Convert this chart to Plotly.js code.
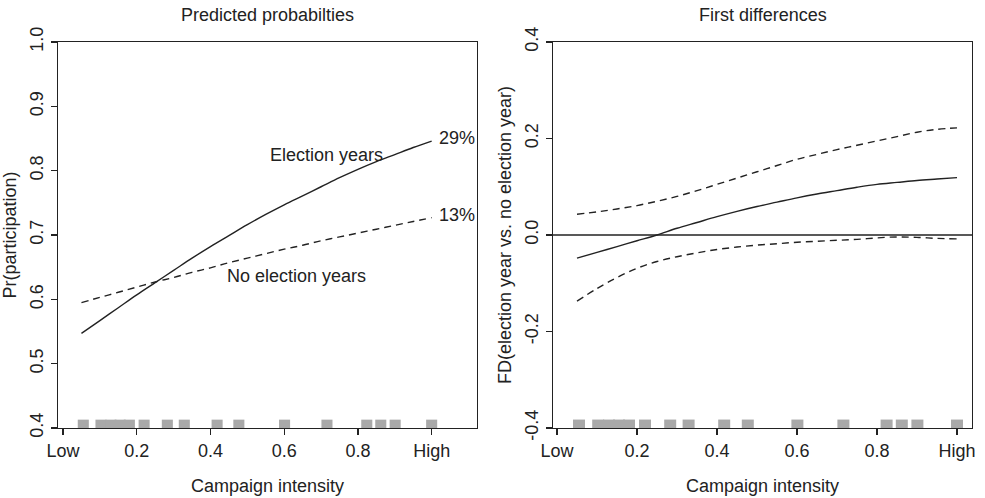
<!DOCTYPE html>
<html>
<head>
<meta charset="utf-8">
<script src="https://cdn.plot.ly/plotly-3.0.1.min.js"></script>
<style>html,body{margin:0;padding:0;background:#fff;}#chart{width:985px;height:498px;}</style>
</head>
<body>
<div id="chart"></div>
<script>
// ---- data ----
const intensity = [0.05,0.10,0.15,0.20,0.25,0.30,0.35,0.40,0.45,0.50,0.55,0.60,0.65,0.70,0.75,0.80,0.85,0.90,0.95,1.00];
const prElection = [0.547,0.567,0.587,0.607,0.626,0.645,0.664,0.682,0.699,0.716,0.732,0.747,0.761,0.775,0.789,0.802,0.814,0.825,0.836,0.846];
const prNoElection = [0.595,0.603,0.611,0.619,0.627,0.634,0.642,0.649,0.657,0.664,0.671,0.678,0.684,0.691,0.697,0.703,0.709,0.715,0.721,0.727];
const fdMean = [-0.048,-0.036,-0.024,-0.012,0.000,0.014,0.026,0.038,0.049,0.059,0.068,0.077,0.085,0.092,0.099,0.105,0.109,0.113,0.116,0.119];
const fdUpper = [0.043,0.048,0.054,0.061,0.070,0.080,0.092,0.105,0.118,0.131,0.144,0.157,0.167,0.177,0.186,0.195,0.204,0.213,0.219,0.222];
const fdLower = [-0.137,-0.111,-0.088,-0.069,-0.055,-0.045,-0.037,-0.030,-0.025,-0.021,-0.018,-0.015,-0.013,-0.011,-0.009,-0.006,-0.004,-0.005,-0.007,-0.008];
const rugValues = [0.055,0.103,0.13,0.155,0.18,0.22,0.283,0.329,0.418,0.477,0.601,0.716,0.824,0.862,0.901,1.0];
const xTickVals = [0,0.2,0.4,0.6,0.8,1];
const xTickText = ['Low','0.2','0.4','0.6','0.8','High'];
const yTickVals1 = [0.4,0.5,0.6,0.7,0.8,0.9,1.0];
const yTickText1 = ['0.4','0.5','0.6','0.7','0.8','0.9','1.0'];
const yTickVals2 = [-0.4,-0.2,0,0.2,0.4];
const yTickText2 = ['-0.4','-0.2','0.0','0.2','0.4'];

// ---- styles ----
const INK = '#222';
const FONT = 'Liberation Sans, Arial, Helvetica, sans-serif';
const FS = 18;
const LW = 1.4;
const DASH = '7px,5px';
const RUG = '#a9a9a9';

const traces = [
  {x: rugValues, y: rugValues.map(() => 0.013), base: 0.4, width: rugValues.map(() => 0.03), type: 'bar', marker: {color: RUG, line: {width: 0}}, xaxis: 'x', yaxis: 'y', hoverinfo: 'skip'},
  {x: intensity, y: prElection, mode: 'lines', line: {color: INK, width: LW, shape: 'spline'}, xaxis: 'x', yaxis: 'y'},
  {x: intensity, y: prNoElection, mode: 'lines', line: {color: INK, width: LW, dash: DASH, shape: 'spline'}, xaxis: 'x', yaxis: 'y'},
  {x: rugValues, y: rugValues.map(() => 0.0175), base: -0.4, width: rugValues.map(() => 0.03), type: 'bar', marker: {color: RUG, line: {width: 0}}, xaxis: 'x2', yaxis: 'y2', hoverinfo: 'skip'},
  {x: intensity, y: fdMean, mode: 'lines', line: {color: INK, width: LW, shape: 'spline'}, xaxis: 'x2', yaxis: 'y2'},
  {x: intensity, y: fdUpper, mode: 'lines', line: {color: INK, width: LW, dash: DASH, shape: 'spline'}, xaxis: 'x2', yaxis: 'y2'},
  {x: intensity, y: fdLower, mode: 'lines', line: {color: INK, width: LW, dash: DASH, shape: 'spline'}, xaxis: 'x2', yaxis: 'y2'}
];

function xAxis(domain, range, anchor) {
  return {domain, range, anchor, tickvals: xTickVals, ticktext: xTickText, ticks: 'outside', ticklen: 6, tickwidth: 1.2, tickcolor: INK,
    showline: true, mirror: true, linecolor: INK, linewidth: 1.4, showgrid: false, zeroline: false,
    tickfont: {family: FONT, size: FS, color: INK},
    title: {text: 'Campaign intensity', font: {family: FONT, size: FS, color: INK}, standoff: 19}};
}
function yAxis(domain, range, anchor, vals, text, title) {
  return {domain, range, anchor, tickvals: vals, ticktext: text, tickangle: -90, ticks: 'outside', ticklen: 6, tickwidth: 1.2, tickcolor: INK,
    showline: true, mirror: true, linecolor: INK, linewidth: 1.4, showgrid: false, zeroline: false,
    tickfont: {family: FONT, size: FS, color: INK},
    title: {text: title, font: {family: FONT, size: FS, color: INK}, standoff: 6}};
}

const yDom = [1 - 428/498, 1 - 42/498];
const layout = {
  width: 985, height: 498,
  margin: {l: 0, r: 0, t: 0, b: 0},
  paper_bgcolor: '#fff', plot_bgcolor: '#fff',
  showlegend: false,
  font: {family: FONT, size: FS, color: INK},
  xaxis: xAxis([58/985, 477/985], [-0.0136, 1.123], 'y'),
  yaxis: yAxis(yDom, [0.4, 1.0], 'x', yTickVals1, yTickText1, 'Pr(participation)'),
  xaxis2: xAxis([553/985, 972/985], [-0.01, 1.0375], 'y2'),
  yaxis2: yAxis(yDom, [-0.4, 0.4], 'x2', yTickVals2, yTickText2, 'FD(election year vs. no election year)'),
  shapes: [
    {type: 'line', xref: 'x2 domain', x0: 0, x1: 1, yref: 'y2', y0: 0, y1: 0, line: {color: INK, width: LW}}
  ],
  annotations: [
    {text: 'Predicted probabilties', xref: 'x domain', x: 0.5, yref: 'paper', y: 1 - 15/498, xanchor: 'center', yanchor: 'middle', showarrow: false, font: {family: FONT, size: FS, color: INK}},
    {text: 'First differences', xref: 'x2 domain', x: 0.5, yref: 'paper', y: 1 - 15/498, xanchor: 'center', yanchor: 'middle', showarrow: false, font: {family: FONT, size: FS, color: INK}},
    {text: 'Election years', xref: 'x', yref: 'y', x: 0.714, y: 0.824, showarrow: false, xanchor: 'center', yanchor: 'middle', font: {family: FONT, size: FS, color: INK}},
    {text: 'No election years', xref: 'x', yref: 'y', x: 0.633, y: 0.637, showarrow: false, xanchor: 'center', yanchor: 'middle', font: {family: FONT, size: FS, color: INK}},
    {text: '29%', xref: 'x', yref: 'y', x: 1.068, y: 0.851, showarrow: false, xanchor: 'center', yanchor: 'middle', font: {family: FONT, size: FS, color: INK}},
    {text: '13%', xref: 'x', yref: 'y', x: 1.068, y: 0.731, showarrow: false, xanchor: 'center', yanchor: 'middle', font: {family: FONT, size: FS, color: INK}}
  ]
};

Plotly.newPlot('chart', traces, layout, {staticPlot: true, displayModeBar: false});
</script>
</body>
</html>
